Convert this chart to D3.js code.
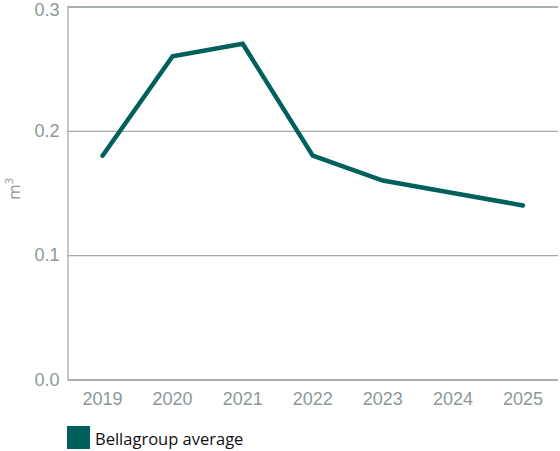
<!DOCTYPE html>
<html>
<head>
<meta charset="utf-8">
<script src="https://cdn.jsdelivr.net/npm/d3@7"></script>
<style>
  html, body { margin: 0; padding: 0; background: #fff; }
  svg { display: block; font-family: "Open Sans", "Noto Sans", sans-serif; }
</style>
</head>
<body>
<svg id="chart" width="560" height="451"></svg>
<script>
// Yearly average volume per unit, Bellagroup
const years = ["2019", "2020", "2021", "2022", "2023", "2024", "2025"];
const averageValues = [0.18, 0.26, 0.27, 0.18, 0.16, 0.15, 0.14];
const yTicks = [0.0, 0.1, 0.2, 0.3];
const seriesName = "Bellagroup average";

(function draw() {
  const svg = d3.select("#chart");
  const plot = { left: 67.5, right: 558, top: 6.5, bottom: 379.5 };
  const lineColor = "#00605c";
  const gridColor = "#a3abab";
  const tickColor = "#8d9898";

  const x = d3.scaleBand().domain(years).range([plot.left, plot.right]);
  const y = d3.scaleLinear().domain([0, 0.3]).range([plot.bottom, plot.top]);

  // Horizontal gridlines and y tick labels
  const yAxis = d3.axisLeft(y).tickValues(yTicks).tickFormat(d3.format(".1f"))
    .tickSize(-(plot.right - plot.left)).tickPadding(8);
  const gy = svg.append("g").attr("transform", `translate(${plot.left},0)`).call(yAxis);
  gy.select(".domain").attr("stroke", gridColor).attr("stroke-width", 1.3);
  gy.selectAll(".tick line").attr("stroke", gridColor).attr("stroke-width", 1.3);
  gy.selectAll(".tick text").attr("fill", tickColor).attr("font-size", 18);
  // keep the topmost label inside the page edge
  gy.selectAll(".tick text").filter(d => d === 0.3).attr("dy", "0.48em");

  // Year labels along the bottom
  const xAxis = d3.axisBottom(x).tickSize(0).tickPadding(13);
  const gx = svg.append("g").attr("transform", `translate(0,${plot.bottom})`).call(xAxis);
  gx.select(".domain").remove();
  gx.selectAll(".tick text").attr("fill", tickColor).attr("font-size", 18);

  // Axis title
  const yTitle = svg.append("text")
    .attr("transform", "translate(20,189) rotate(-90)")
    .attr("text-anchor", "middle")
    .attr("fill", tickColor)
    .attr("font-size", 17);
  yTitle.append("tspan").text("m");
  yTitle.append("tspan").attr("dy", -7).attr("font-size", 11).text("3");

  // Series line
  const line = d3.line()
    .x((d, i) => x(years[i]) + x.bandwidth() / 2)
    .y(d => y(d));
  svg.append("path")
    .datum(averageValues)
    .attr("d", line)
    .attr("fill", "none")
    .attr("stroke", lineColor)
    .attr("stroke-width", 4.5)
    .attr("stroke-linejoin", "miter")
    .attr("stroke-linecap", "round");

  // Legend
  const legend = svg.append("g").attr("transform", "translate(67,426)");
  legend.append("rect").attr("width", 23).attr("height", 23).attr("fill", lineColor);
  legend.append("text").attr("x", 28).attr("y", 19)
    .attr("fill", "#111").attr("font-size", 16.5).text(seriesName);
})();
</script>
</body>
</html>
